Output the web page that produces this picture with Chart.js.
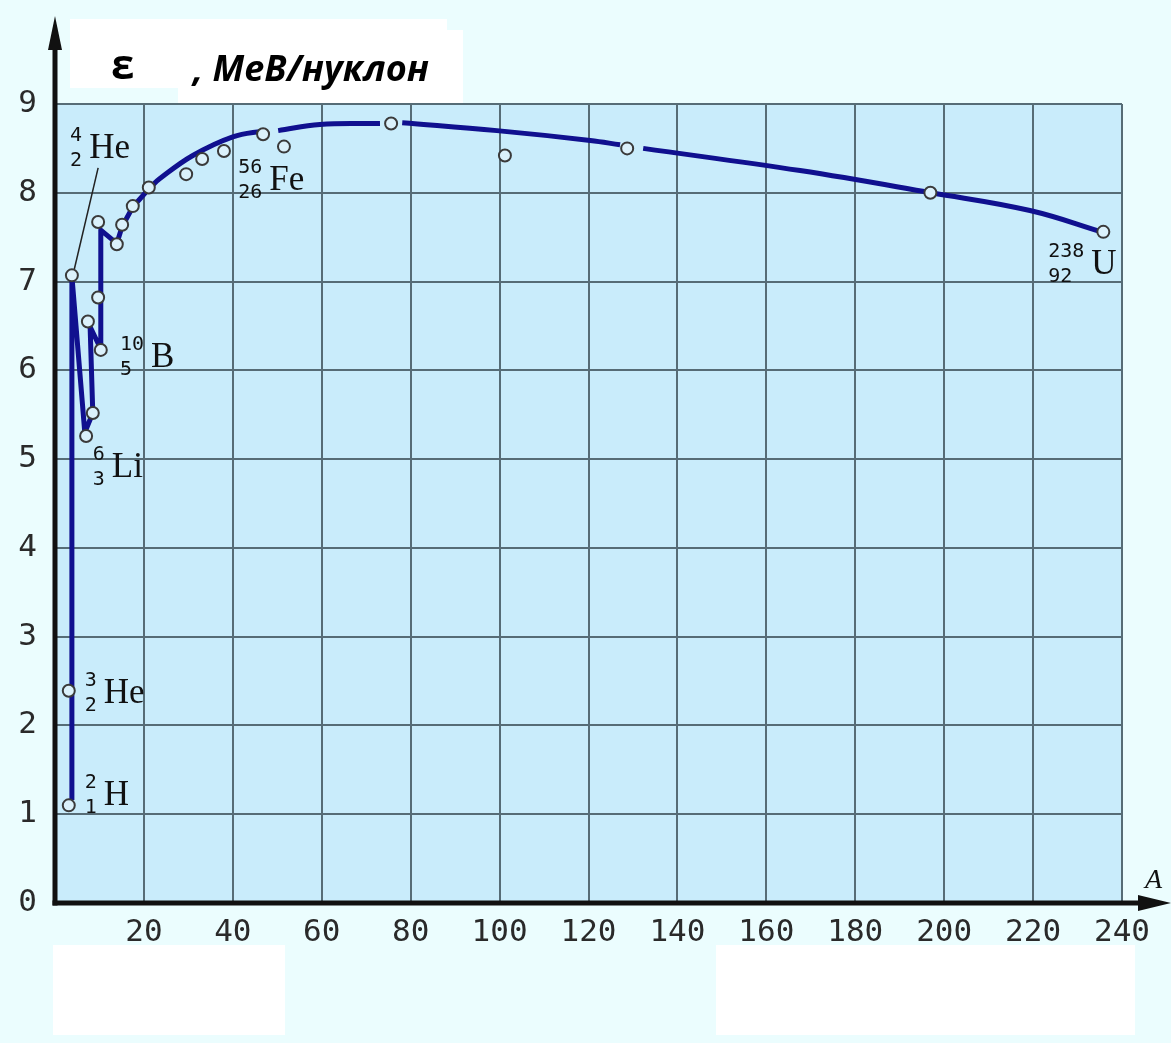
<!DOCTYPE html>
<html><head><meta charset="utf-8">
<script src="https://cdn.jsdelivr.net/npm/chart.js@4.4.0/dist/chart.umd.min.js"></script>
<style>html,body{margin:0;padding:0;background:#ebfdfe;}canvas{display:block}</style>
</head><body>
<canvas id="c" width="1171" height="1043"></canvas>
<script>
// ---- data ----
const xTicks = [20, 40, 60, 80, 100, 120, 140, 160, 180, 200, 220, 240];
const yTicks = [0, 1, 2, 3, 4, 5, 6, 7, 8, 9];

// measured nuclides: mass number A and binding energy per nucleon (MeV)
const nuclideA = [3.1, 3.1, 3.8, 7.0, 8.5, 7.4, 10.3, 9.7, 9.7, 13.9, 15.1, 17.5, 21.1, 29.5, 33.1, 38.0, 46.8, 51.5, 75.6, 101.2, 128.7, 196.9, 235.8];
const nuclideE = [1.10, 2.39, 7.07, 5.26, 5.52, 6.55, 6.23, 6.82, 7.67, 7.42, 7.64, 7.85, 8.06, 8.21, 8.38, 8.47, 8.66, 8.52, 8.78, 8.42, 8.50, 8.00, 7.56];

// broken line through the light nuclei
const lightA = [3.8, 3.8, 6.7, 8.5, 7.9, 10.3, 10.3, 13.9, 15.1, 17.5, 21.4];
const lightE = [1.16, 7.06, 5.30, 5.52, 6.49, 6.24, 7.58, 7.43, 7.62, 7.84, 8.06];

// smooth trend curve (null = gap in the drawn curve)
const curveA = [21.4, 23.6, 31.0, 40.0, 47.2, null, 50.2, 59.6, 73.1, null, 78.1, 99.4, 120.4, 127.1, null, 132.3, 167.6, 197.1, 219.3, 236.0];
const curveE = [8.06, 8.16, 8.42, 8.63, 8.70, null, 8.70, 8.77, 8.78, null, 8.79, 8.70, 8.59, 8.54, null, 8.50, 8.25, 8.00, 7.80, 7.55];

// leader line for He-4 label
const leaderA = [4.3, 9.7];
const leaderE = [7.13, 8.28];

// isotope labels
const isoSymbol = ['He', 'Fe', 'B', 'Li', 'He', 'H', 'U'];
const isoMass   = ['4', '56', '10', '6', '3', '2', '238'];
const isoCharge = ['2', '26', '5', '3', '2', '1', '92'];
const isoA      = [3.4, 41.2, 14.6, 8.5, 6.7, 6.7, 223.4];
const isoE      = [8.39, 8.03, 6.04, 4.80, 2.25, 1.10, 7.09];

const titleSymbol = 'ε';
const titleUnit = ', МеВ/нуклон';
const xAxisName = 'A';

const toXY = (xs, ys) => xs.map((v, i) => (v === null ? {x: null, y: null} : {x: v, y: ys[i]}));

const OUTER = '#ebfdfe', PLOT = '#c9ecfb', NAVY = '#10108f', GRID = '#566c76';
const TICK_FONT = {family: '"DejaVu Sans Mono"', size: 31};

const decor = {
  id: 'decor',
  beforeDraw(chart) {
    const {ctx, chartArea: a} = chart;
    ctx.save();
    ctx.fillStyle = OUTER; ctx.fillRect(0, 0, chart.width, chart.height);
    ctx.fillStyle = PLOT; ctx.fillRect(a.left, a.top, a.right - a.left, a.bottom - a.top);
    ctx.restore();
  },
  afterDatasetsDraw(chart) {
    const {ctx, chartArea: a, scales: {x, y}} = chart;
    ctx.save();
    // axes with arrows
    ctx.strokeStyle = '#111'; ctx.fillStyle = '#111'; ctx.lineWidth = 5;
    ctx.beginPath(); ctx.moveTo(a.left, a.bottom + 2.5); ctx.lineTo(a.left, 45); ctx.stroke();
    ctx.beginPath(); ctx.moveTo(a.left - 2.5, a.bottom); ctx.lineTo(1145, a.bottom); ctx.stroke();
    ctx.beginPath(); ctx.moveTo(a.left, 16); ctx.lineTo(a.left - 7, 50); ctx.lineTo(a.left + 7, 50); ctx.closePath(); ctx.fill();
    ctx.beginPath(); ctx.moveTo(1171, a.bottom); ctx.lineTo(1138, a.bottom - 8); ctx.lineTo(1138, a.bottom + 8); ctx.closePath(); ctx.fill();
    // axis name
    ctx.font = 'italic 28px "Liberation Serif"';
    ctx.textBaseline = 'alphabetic'; ctx.textAlign = 'left';
    ctx.fillText(xAxisName, 1145, 888);
    // isotope labels
    ctx.fillStyle = '#111';
    isoSymbol.forEach((s, i) => {
      const px = x.getPixelForValue(isoA[i]);
      const py = y.getPixelForValue(isoE[i]);
      ctx.font = '20px "DejaVu Sans Mono"';
      const w = Math.max(ctx.measureText(isoMass[i]).width, ctx.measureText(isoCharge[i]).width);
      ctx.fillText(isoMass[i], px, py - 17);
      ctx.fillText(isoCharge[i], px, py + 8);
      ctx.font = '35px "Liberation Serif"';
      ctx.fillText(s, px + w + 7, py);
    });
    ctx.restore();
  },
  afterDraw(chart) {
    const {ctx} = chart;
    ctx.save();
    ctx.fillStyle = '#ffffff';
    ctx.fillRect(70, 19, 377, 69);
    ctx.fillRect(178, 30, 285, 73);
    ctx.fillRect(53, 945, 232, 90);
    ctx.fillRect(716, 945, 419, 90);
    ctx.fillStyle = '#000';
    ctx.textBaseline = 'alphabetic'; ctx.textAlign = 'left';
    ctx.font = 'bold 42px "Open Sans"';
    ctx.fillText(titleSymbol, 111, 79);
    ctx.font = 'italic bold 36px "Open Sans"';
    ctx.fillText(titleUnit, 193, 81);
    ctx.restore();
  }
};

new Chart(document.getElementById('c'), {
  type: 'scatter',
  data: {
    datasets: [
      {data: toXY(lightA, lightE), showLine: true, borderColor: NAVY, borderWidth: 5, pointRadius: 0, tension: 0, borderJoinStyle: 'round', order: 3},
      {data: toXY(curveA, curveE), showLine: true, borderColor: NAVY, borderWidth: 5, pointRadius: 0, tension: 0.4, spanGaps: false, order: 3},
      {data: toXY(leaderA, leaderE), showLine: true, borderColor: '#222', borderWidth: 1.5, pointRadius: 0, order: 2},
      {data: toXY(nuclideA, nuclideE), showLine: false, pointRadius: 6, pointBorderWidth: 2, pointBorderColor: '#3a3a3a', pointBackgroundColor: '#dbf1fb', order: 1}
    ]
  },
  options: {
    responsive: false,
    animation: false,
    events: [],
    layout: {padding: {top: 104, right: 49, left: 0, bottom: 0}},
    plugins: {legend: {display: false}, tooltip: {enabled: false}},
    scales: {
      x: {
        type: 'linear', min: 0, max: 240,
        afterBuildTicks: s => { s.ticks = xTicks.map(v => ({value: v})); },
        afterFit: s => { s.height = 140; },
        grid: {color: GRID, lineWidth: 2, drawTicks: false},
        border: {display: false},
        ticks: {padding: 11, color: '#2a2a2a', font: TICK_FONT, maxRotation: 0, autoSkip: false}
      },
      y: {
        type: 'linear', min: 0, max: 9,
        afterBuildTicks: s => { s.ticks = yTicks.map(v => ({value: v})); },
        afterFit: s => { s.width = 55; },
        grid: {color: GRID, lineWidth: 2, drawTicks: false},
        border: {display: false},
        ticks: {padding: 18, color: '#2a2a2a', font: TICK_FONT, autoSkip: false}
      }
    }
  },
  plugins: [decor]
});
</script>
</body></html>
